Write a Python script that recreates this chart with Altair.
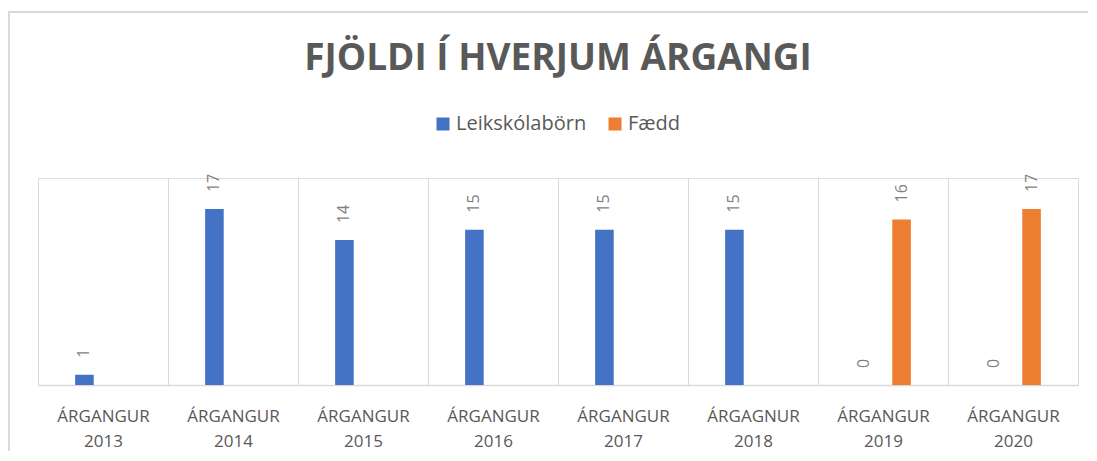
import altair as alt
import pandas as pd

categories = ["ÁRGANGUR\n2013", "ÁRGANGUR\n2014", "ÁRGANGUR\n2015", "ÁRGANGUR\n2016",
              "ÁRGANGUR\n2017", "ÁRGAGNUR\n2018", "ÁRGANGUR\n2019", "ÁRGANGUR\n2020"]
series = ["Leikskólabörn", "Fædd"]
leikskolaborn = [1, 17, 14, 15, 15, 15, 0, 0]
faedd = [None, None, None, None, None, None, 16, 17]
colors = ["#4472C4", "#ED7D31"]

rows = []
for c, a, b in zip(categories, leikskolaborn, faedd):
    if a is not None:
        rows.append({"cat": c, "series": series[0], "value": a})
    if b is not None:
        rows.append({"cat": c, "series": series[1], "value": b})
df = pd.DataFrame(rows)

FONT = "Open Sans"
W, H = 1040, 207
PL, PT = 30, 170
TOTAL_W, TOTAL_H = 1080, 443

x = alt.X("cat:N", sort=categories, title=None,
          scale=alt.Scale(paddingInner=0, paddingOuter=0),
          axis=alt.Axis(labelAngle=0, labelExpr="split(datum.label, '\\n')",
                        labelFont=FONT, labelFontSize=17, labelColor="#595959",
                        labelLineHeight=25, labelPadding=23, labelBaseline="top",
                        ticks=False, tickBand="extent", grid=True, gridColor="#d9d9d9",
                        gridWidth=1, domainColor="#d9d9d9", domainWidth=1.5))
xo = alt.XOffset("series:N", sort=series,
                 scale=alt.Scale(domain=series, paddingInner=0.5, paddingOuter=1))
y = alt.Y("value:Q", scale=alt.Scale(domain=[0, 20]), axis=None)

bars = alt.Chart(df).mark_bar().encode(
    x=x, xOffset=xo, y=y,
    color=alt.Color("series:N", sort=series,
                    scale=alt.Scale(domain=series, range=colors),
                    legend=alt.Legend(title=None, orient="none", direction="horizontal",
                                      legendX=395, legendY=-64, symbolType="square",
                                      symbolSize=169, symbolStrokeWidth=0,
                                      labelFont=FONT, labelFontSize=20,
                                      labelColor="#595959", columnPadding=18,
                                      symbolOffset=0, labelOffset=3)),
)

labels = alt.Chart(df).mark_text(angle=270, align="left", baseline="middle", dx=17,
                                 font=FONT, fontSize=16, color="#7f7f7f").encode(
    x=x, xOffset=xo, y=y, text=alt.Text("value:Q"))

border_left = alt.Chart(df).mark_rule(color="#d9d9d9", strokeWidth=1.5).encode(
    x=alt.value(-29.5), y=alt.value(-166), y2=alt.value(TOTAL_H - PT))
border_top = alt.Chart(df).mark_rule(color="#d9d9d9", strokeWidth=1.5).encode(
    y=alt.value(-166), x=alt.value(-30), x2=alt.value(TOTAL_W - PL))

chart = alt.layer(border_left, border_top, bars, labels).properties(
    width=W, height=H,
    title=alt.TitleParams("FJÖLDI Í HVERJUM ÁRGANGI", font=FONT, fontSize=37,
                          fontWeight="bold", color="#595959", anchor="middle",
                          frame="group", offset=0, baseline="alphabetic", dy=96),
    autosize=alt.AutoSizeParams(type="none"),
    padding={"left": PL, "top": PT, "right": TOTAL_W - PL - W, "bottom": TOTAL_H - PT - H},
).configure_view(stroke=None).configure(background="white")

chart.save("out.html", embed_options={"renderer": "svg", "actions": False})
